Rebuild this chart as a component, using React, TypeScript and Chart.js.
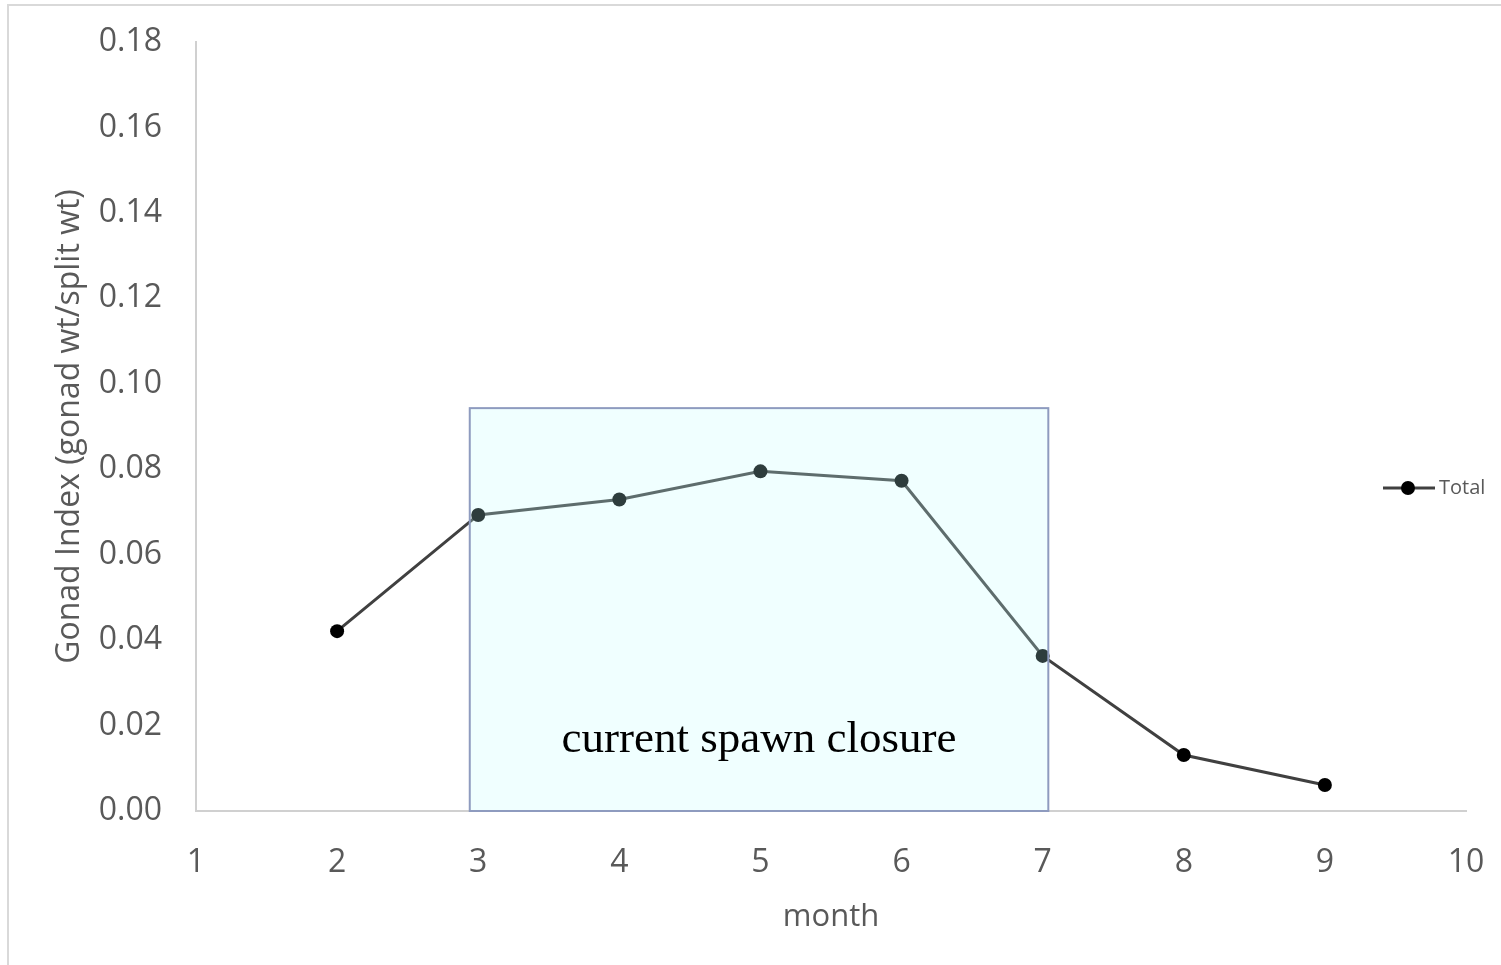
import React, { useEffect, useRef } from "react";
import { Chart, registerables } from "chart.js";

Chart.register(...registerables);

const months = [2, 3, 4, 5, 6, 7, 8, 9];
const gonadIndex = [0.0421, 0.0693, 0.0729, 0.0795, 0.0773, 0.0363, 0.0131, 0.0061];
const seriesLabel = "Total";
const xTitle = "month";
const yTitle = "Gonad Index (gonad wt/split wt)";
const closureLabel = "current spawn closure";
const closureStart = 2.94;
const closureEnd = 7.04;
const closureTop = 0.0943;
const closureLabelY = 0.0138;

const AXIS_FONT = "'Open Sans', 'Noto Sans', sans-serif";
const TEXT_GREY = "#595959";

export default function App() {
  const ref = useRef<HTMLCanvasElement | null>(null);

  useEffect(() => {
    document.body.style.margin = "0";
    const canvas = ref.current;
    if (!canvas) return;

    const framePlugin = {
      id: "frame",
      beforeDraw(chart: any) {
        const ctx = chart.ctx;
        ctx.save();
        ctx.fillStyle = "#ffffff";
        ctx.fillRect(0, 0, chart.width, chart.height);
        ctx.fillStyle = "#d9d9d9";
        ctx.fillRect(7, 4, chart.width - 7, 2);
        ctx.fillRect(7, 4, 2, chart.height - 4);
        ctx.restore();
      },
    };

    const closurePlugin = {
      id: "closure",
      afterDatasetsDraw(chart: any) {
        const { ctx, scales } = chart;
        const x = scales.x, y = scales.y;
        const x0 = x.getPixelForValue(closureStart);
        const x1 = x.getPixelForValue(closureEnd);
        const y0 = y.getPixelForValue(0);
        const y1 = y.getPixelForValue(closureTop);
        ctx.save();
        ctx.fillStyle = "rgba(194,255,253,0.24)";
        ctx.fillRect(x0, y1, x1 - x0, y0 - y1);
        ctx.strokeStyle = "#8e9bbf";
        ctx.lineWidth = 2;
        ctx.strokeRect(x0, y1, x1 - x0, y0 - y1);
        ctx.fillStyle = "#000000";
        ctx.font = "45px 'Liberation Serif', 'DejaVu Serif', serif";
        ctx.textAlign = "center";
        ctx.textBaseline = "alphabetic";
        ctx.fillText(closureLabel, (x0 + x1) / 2, y.getPixelForValue(closureLabelY));
        ctx.restore();
      },
    };

    const legendPlugin = {
      id: "customLegend",
      afterDraw(chart: any) {
        const ctx = chart.ctx;
        const ds = chart.data.datasets[0];
        const cy = 488;
        ctx.save();
        ctx.strokeStyle = "#404040";
        ctx.lineWidth = 3;
        ctx.beginPath();
        ctx.moveTo(1383, cy);
        ctx.lineTo(1435, cy);
        ctx.stroke();
        ctx.fillStyle = "#000000";
        ctx.beginPath();
        ctx.arc(1408, cy, 7, 0, Math.PI * 2);
        ctx.fill();
        ctx.fillStyle = TEXT_GREY;
        ctx.font = `20px ${AXIS_FONT}`;
        ctx.textAlign = "left";
        ctx.textBaseline = "middle";
        ctx.fillText(ds.label, 1439, cy);
        ctx.restore();
      },
    };

    const chart = new Chart(canvas, {
      type: "line",
      data: {
        datasets: [
          {
            label: seriesLabel,
            data: months.map((m, i) => ({ x: m, y: gonadIndex[i] })),
            borderColor: "#404040",
            borderWidth: 3,
            pointBackgroundColor: "#000000",
            pointBorderColor: "#000000",
            pointRadius: 7,
            pointBorderWidth: 0,
            tension: 0,
            fill: false,
          },
        ],
      },
      options: {
        responsive: false,
        animation: false,
        devicePixelRatio: 1,
        layout: { padding: { left: 51, right: 35, top: 42, bottom: 0 } },
        plugins: {
          legend: { display: false },
          tooltip: { enabled: false },
        },
        scales: {
          x: {
            type: "linear",
            min: 1,
            max: 10,
            grid: { display: false, drawTicks: false },
            border: { display: true, color: "#d0d0d0", width: 2 },
            ticks: {
              stepSize: 1,
              padding: 33,
              color: TEXT_GREY,
              font: { family: AXIS_FONT, size: 32 },
            },
            title: {
              display: true,
              text: xTitle,
              color: TEXT_GREY,
              font: { family: AXIS_FONT, size: 31 },
              padding: { top: 0, bottom: 29 },
            },
            afterFit(scale: any) {
              scale.height = 154;
              scale.paddingLeft = 0;
              scale.paddingRight = 0;
            },
          },
          y: {
            type: "linear",
            min: 0,
            max: 0.18,
            grid: { display: false, drawTicks: false },
            border: { display: true, color: "#d0d0d0", width: 2 },
            ticks: {
              stepSize: 0.02,
              padding: 34,
              color: TEXT_GREY,
              font: { family: AXIS_FONT, size: 32 },
              callback: (v: any) => Number(v).toFixed(2),
            },
            title: {
              display: true,
              text: yTitle,
              color: TEXT_GREY,
              font: { family: AXIS_FONT, size: 32 },
              padding: { top: 0, bottom: 0 },
            },
            afterFit(scale: any) {
              scale.width = 145;
              scale.paddingTop = 0;
              scale.paddingBottom = 0;
            },
          },
        },
      },
      plugins: [framePlugin, closurePlugin, legendPlugin],
    } as any);

    return () => chart.destroy();
  }, []);

  return (
    <div style={{ position: "absolute", left: 0, top: 0, width: 1501, height: 965 }}>
      <canvas ref={ref} width={1501} height={965} style={{ display: "block", width: 1501, height: 965 }} />
    </div>
  );
}
